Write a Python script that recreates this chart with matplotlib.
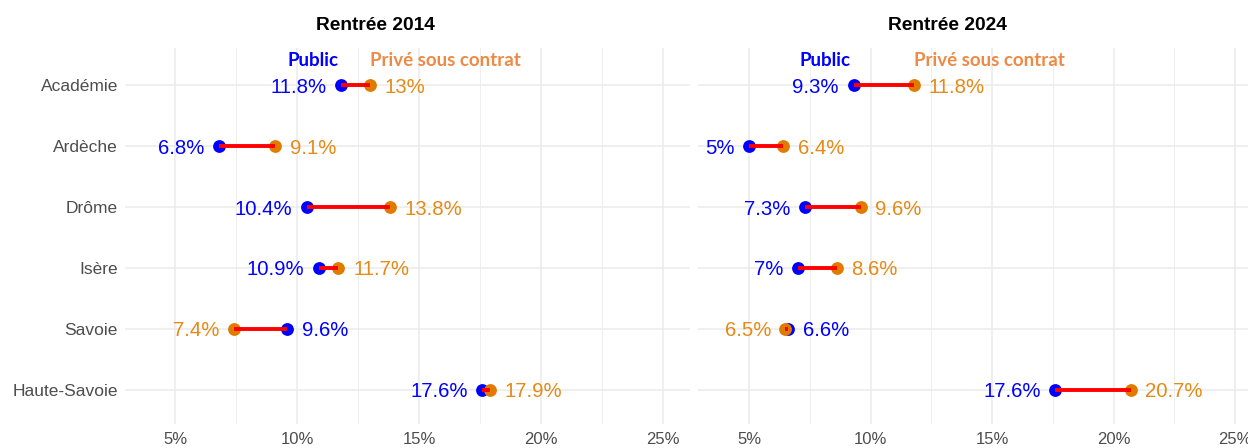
import matplotlib
matplotlib.use("Agg")
import matplotlib.pyplot as plt
from matplotlib.ticker import MultipleLocator, FuncFormatter

categories = ["Académie", "Ardèche", "Drôme", "Isère", "Savoie", "Haute-Savoie"]
public_2014 = [11.8, 6.8, 10.4, 10.9, 9.6, 17.6]
prive_2014 = [13.0, 9.1, 13.8, 11.7, 7.4, 17.9]
public_2024 = [9.3, 5.0, 7.3, 7.0, 6.6, 17.6]
prive_2024 = [11.8, 6.4, 9.6, 8.6, 6.5, 20.7]
titles = ["Rentrée 2014", "Rentrée 2024"]

BLUE = "#0000FF"
ORANGE_PT = "#E07B00"
ORANGE_TXT = "#E58A17"
ORANGE_HDR = "#EE8A45"
RED = "#FF0000"
GRID = "#EBEBEB"
GRAYTXT = "#4D4D4D"

plt.rcParams['font.family'] = ['Liberation Sans', 'DejaVu Sans']

fig = plt.figure(figsize=(12.48, 4.48), dpi=100)
W, H = 1248, 448
panels = [
    dict(px=(125, 690), xlim=(2.951, 26.11), pub=public_2014, pri=prive_2014, tx=375),
    dict(px=(698, 1248), xlim=(2.90, 25.53), pub=public_2024, pri=prive_2024, tx=947),
]
top, bot = 48, 424

def fmt(v):
    return f"{v:g}%"

for i, p in enumerate(panels):
    ax = fig.add_axes([p['px'][0] / W, 1 - bot / H, (p['px'][1] - p['px'][0]) / W, (bot - top) / H])
    ax.set_xlim(*p['xlim'])
    ax.set_ylim(5.56, -0.61)
    for s in ax.spines.values():
        s.set_visible(False)
    ax.xaxis.set_major_locator(MultipleLocator(5))
    ax.xaxis.set_minor_locator(MultipleLocator(2.5))
    ax.xaxis.set_major_formatter(FuncFormatter(lambda v, pos: f"{v:g}%"))
    ax.set_yticks(range(len(categories)))
    if i == 0:
        ax.set_yticklabels(categories, fontsize=12.5, color=GRAYTXT)
    else:
        ax.set_yticklabels([])
    ax.tick_params(axis='both', which='both', length=0)
    ax.tick_params(axis='x', labelsize=12, labelcolor=GRAYTXT, pad=6)
    ax.tick_params(axis='y', pad=5)
    ax.grid(True, which='major', color=GRID, lw=1.1)
    ax.grid(True, which='minor', axis='x', color=GRID, lw=0.6)
    ax.set_axisbelow(True)

    ys = list(range(len(categories)))
    ax.scatter(p['pub'], ys, s=85, color=BLUE, zorder=3, linewidths=0)
    ax.scatter(p['pri'], ys, s=85, color=ORANGE_PT, zorder=4, linewidths=0)
    for y, a, b in zip(ys, p['pub'], p['pri']):
        ax.plot([a, b], [y, y], color=RED, lw=2.8, zorder=5, solid_capstyle='butt')
        lo_is_pub = a <= b
        off = 10.5
        ax.annotate(fmt(a), (a, y), xytext=(-off if lo_is_pub else off, 0), textcoords='offset points',
                    ha='right' if lo_is_pub else 'left', va='center_baseline', color=BLUE, fontsize=14.7)
        ax.annotate(fmt(b), (b, y), xytext=(off if lo_is_pub else -off, 0), textcoords='offset points',
                    ha='left' if lo_is_pub else 'right', va='center_baseline', color=ORANGE_TXT, fontsize=14.7)

    ax.annotate("Public", (p['pub'][0], -0.42), xytext=(-2, -0.5), textcoords='offset points',
                ha='right', va='center', color=BLUE, fontsize=13.5, fontweight='bold',
                family=['Lato', 'DejaVu Sans'])
    ax.annotate("Privé sous contrat", (p['pri'][0], -0.42), xytext=(0, -0.5), textcoords='offset points',
                ha='left', va='center', color=ORANGE_HDR, fontsize=13.5, fontweight='bold',
                family=['Lato', 'DejaVu Sans'])

    fig.text(p['tx'] / W, 1 - 25 / H, titles[i], ha='center', va='center',
             fontsize=13.8, fontweight='bold', color='black')

fig.savefig("out.png", dpi=100, facecolor='white')
